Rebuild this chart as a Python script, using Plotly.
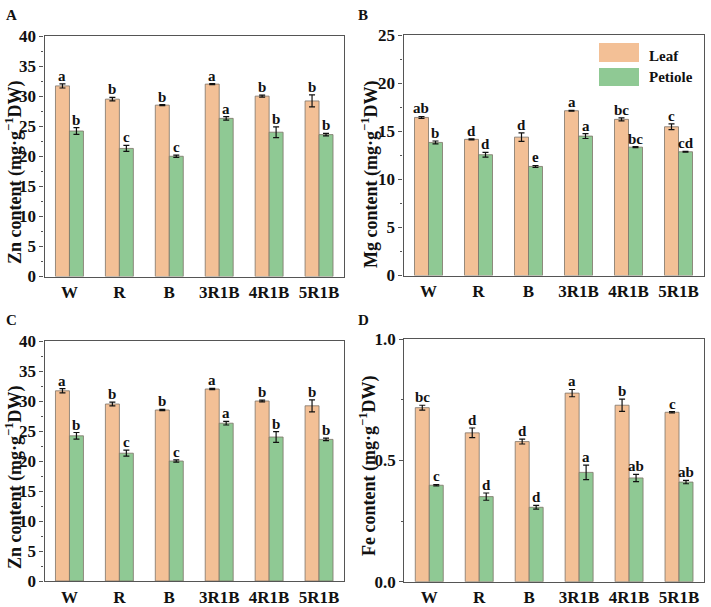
import plotly.graph_objects as go

categories = ["W", "R", "B", "3R1B", "4R1B", "5R1B"]

zn_leaf = [31.7, 29.5, 28.5, 32.0, 30.0, 29.2]
zn_leaf_err = [0.35, 0.3, 0.1, 0.1, 0.15, 1.0]
zn_pet = [24.2, 21.3, 20.0, 26.3, 24.0, 23.6]
zn_pet_err = [0.55, 0.5, 0.2, 0.3, 0.9, 0.2]
zn_leaf_sig = ["a", "b", "b", "a", "b", "b"]
zn_pet_sig = ["b", "c", "c", "a", "b", "b"]

mg_leaf = [16.45, 14.17, 14.4, 17.15, 16.25, 15.48]
mg_leaf_err = [0.1, 0.05, 0.45, 0.05, 0.15, 0.3]
mg_pet = [13.85, 12.57, 11.35, 14.51, 13.36, 12.88]
mg_pet_err = [0.15, 0.25, 0.1, 0.25, 0.05, 0.03]
mg_leaf_sig = ["ab", "d", "d", "a", "bc", "c"]
mg_pet_sig = ["b", "d", "e", "a", "bc", "cd"]

fe_leaf = [0.718, 0.614, 0.578, 0.778, 0.728, 0.699]
fe_leaf_err = [0.01, 0.02, 0.01, 0.015, 0.025, 0.003]
fe_pet = [0.398, 0.351, 0.307, 0.451, 0.428, 0.411]
fe_pet_err = [0.003, 0.015, 0.008, 0.03, 0.015, 0.007]
fe_leaf_sig = ["bc", "d", "d", "a", "b", "c"]
fe_pet_sig = ["c", "d", "d", "a", "ab", "ab"]

LEAF = "#F3C096"
PET = "#8FC994"
EDGE = "#7d7468"
AX = "#555555"
FONT = "Liberation Serif"

OFF = 0
W, H = 711, 607

def px_x(p):
    return (p - OFF) / W

def px_y(p):
    return 1 - (p - OFF) / H

panels = [
    dict(name="A", x0=44.5, x1=344, y0=36, y1=276.5, leaf=zn_leaf, le=zn_leaf_err, pet=zn_pet, pe=zn_pet_err,
         ls=zn_leaf_sig, ps=zn_pet_sig, rng=[0, 40], dt=5, mdt=2.5, fmt="d",
         title="Zn content (mg·g<sup>−1</sup>DW)", lab=(12, 15), tpos=(14, 173)),
    dict(name="B", x0=403.5, x1=703.5, y0=35.3, y1=275.5, leaf=mg_leaf, le=mg_leaf_err, pet=mg_pet, pe=mg_pet_err,
         ls=mg_leaf_sig, ps=mg_pet_sig, rng=[0, 25], dt=5, mdt=2.5, fmt="d",
         title="Mg content (mg·g<sup>−1</sup>DW)", lab=(363, 15), tpos=(370, 175)),
    dict(name="C", x0=44.5, x1=344, y0=341, y1=581, leaf=zn_leaf, le=zn_leaf_err, pet=zn_pet, pe=zn_pet_err,
         ls=zn_leaf_sig, ps=zn_pet_sig, rng=[0, 40], dt=5, mdt=2.5, fmt="d",
         title="Zn content (mg·g<sup>−1</sup>DW)", lab=(12, 320), tpos=(14, 478)),
    dict(name="D", x0=404.3, x1=704, y0=339.3, y1=581.7, leaf=fe_leaf, le=fe_leaf_err, pet=fe_pet, pe=fe_pet_err,
         ls=fe_leaf_sig, ps=fe_pet_sig, rng=[0, 1.0], dt=0.5, mdt=0.25, fmt=".1f",
         title="Fe content (mg·g<sup>−1</sup>DW)", lab=(363, 320), tpos=(368, 466)),
]

fig = go.Figure()
annotations = []
layout = {}

for k, p in enumerate(panels):
    sfx = "" if k == 0 else str(k + 1)
    xa, ya = "x" + sfx, "y" + sfx
    for vals, errs, col, nm in [(p["leaf"], p["le"], LEAF, "Leaf"), (p["pet"], p["pe"], PET, "Petiole")]:
        fig.add_trace(go.Bar(
            x=categories, y=vals, name=nm, xaxis=xa, yaxis=ya, showlegend=False,
            marker=dict(color=col, line=dict(color=EDGE, width=0.8)),
            error_y=dict(type="data", array=errs, visible=True, color="#111111", thickness=1.2, width=3),
        ))
    for vals, errs, sigs, shift in [(p["leaf"], p["le"], p["ls"], -7), (p["pet"], p["pe"], p["ps"], 7)]:
        for c, v, e, s in zip(categories, vals, errs, sigs):
            annotations.append(dict(
                x=c, y=v + e, xref=xa, yref=ya, text=s, showarrow=False,
                xshift=shift, yanchor="bottom", yshift=-2,
                font=dict(family=FONT, size=15, color="#111111", weight="bold"),
            ))
    annotations.append(dict(
        x=px_x(p["lab"][0]), y=px_y(p["lab"][1]), xref="paper", yref="paper", text=p["name"],
        showarrow=False, xanchor="center", yanchor="middle",
        font=dict(family=FONT, size=15, color="#111111", weight="bold"),
    ))
    annotations.append(dict(
        x=px_x(p["tpos"][0]), y=px_y(p["tpos"][1]), xref="paper", yref="paper", text=p["title"],
        showarrow=False, xanchor="center", yanchor="middle", textangle=-90,
        font=dict(family=FONT, size=18, color="#111111", weight="bold"),
    ))
    layout["xaxis" + sfx] = dict(
        domain=[max(0, px_x(p["x0"])), min(1, px_x(p["x1"]))], anchor=ya, type="category", automargin=False,
        range=[-0.5, 5.5], showline=True, linecolor=AX, linewidth=1.2, mirror=True,
        ticks="", showgrid=False, zeroline=False,
        tickfont=dict(family=FONT, size=17, color="#111111", weight="bold"),
    )
    layout["yaxis" + sfx] = dict(
        domain=[max(0, px_y(p["y1"])), min(1, px_y(p["y0"]))], anchor=xa, range=p["rng"], dtick=p["dt"],
        automargin=False,
        tickformat=p["fmt"], showline=True, linecolor=AX, linewidth=1.2, mirror=True,
        ticks="outside", ticklen=4, tickcolor=AX, tickwidth=1,
        minor=dict(dtick=p["mdt"], ticks="outside", ticklen=2, tickcolor=AX, showgrid=False),
        showgrid=False, zeroline=False,
        tickfont=dict(family=FONT, size=17, color="#111111", weight="bold"),
    )

# Legend drawn in panel B (paper coordinates)
shapes = [
    dict(type="rect", xref="paper", yref="paper", x0=px_x(599), x1=px_x(639), y0=px_y(62), y1=px_y(43),
         fillcolor=LEAF, line=dict(width=0)),
    dict(type="rect", xref="paper", yref="paper", x0=px_x(599), x1=px_x(639), y0=px_y(86), y1=px_y(68),
         fillcolor=PET, line=dict(width=0)),
]
for txt, yy in [("Leaf", 56), ("Petiole", 77)]:
    annotations.append(dict(
        x=px_x(647), y=px_y(yy), xref="paper", yref="paper", text=txt, showarrow=False,
        xanchor="left", yanchor="middle",
        font=dict(family=FONT, size=15, color="#111111", weight="bold"),
    ))

fig.update_layout(
    width=W, height=H, margin=dict(l=0, r=0, t=0, b=0, autoexpand=False),
    paper_bgcolor="white", plot_bgcolor="white",
    barmode="group", bargap=0.44, bargroupgap=0,
    annotations=annotations, shapes=shapes, **layout,
)

fig.write_html("out.html", config={"displayModeBar": False},
               post_script="document.body.style.margin='0px';document.body.style.overflow='hidden';")
